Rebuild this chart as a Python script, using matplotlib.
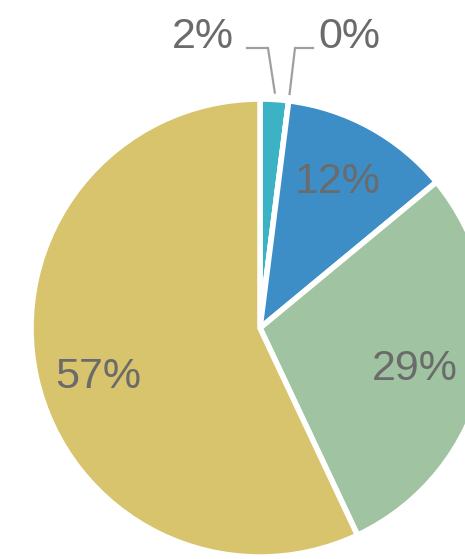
import numpy as np
import matplotlib.pyplot as plt

plt.rcParams['font.family'] = ['Liberation Sans', 'DejaVu Sans']

# shares in percent, clockwise from 12 o'clock
labels = ['2%', '0%', '12%', '29%', '57%']
values = [2, 0, 12, 29, 57]
colors = ['#3cb3c4', '#9e9e9e', '#3d8ec6', '#a0c4a1', '#d8c46c']

R = 229.0  # pie radius in pixels
cx, cy = 260.0, 328.0  # pie centre in pixels (from top-left)
W, H = 465, 559


def px2data(x, y):
    return (x - cx) / R, (cy - y) / R


fig = plt.figure(figsize=(W / 100, H / 100), dpi=100)
ax = fig.add_axes([0, 0, 1, 1])

wedges, _ = ax.pie(values, colors=colors, startangle=90, counterclock=False,
                   radius=1.0, center=(0, 0), frame=True,
                   wedgeprops=dict(edgecolor='white', linewidth=4))
ax.set_xlim(-cx / R, (W - cx) / R)
ax.set_ylim((cy - H) / R, cy / R)
ax.set_aspect('auto')
ax.axis('off')

txt_color = '#6b6b6b'
fs = 31

# big slices: labels inside
inner_pos = [(338, 182), (415, 369), (98, 377)]
for lab, (x, y) in zip(labels[2:], inner_pos):
    ax.text(*px2data(x, y), lab, ha='center', va='center',
            fontsize=fs, color=txt_color)

# small slices: labels above with elbow leader lines
elbow_y = (cy - 48) / R
small = [(wedges[0], labels[0], 268, 203, 247),
         (wedges[1], labels[1], 295, 349, 313)]
for w, lab, ex, tx, lx in small:
    mid = np.deg2rad((w.theta1 + w.theta2) / 2)
    px, py = 1.03 * np.cos(mid), 1.03 * np.sin(mid)
    ax.plot([px, (ex - cx) / R, (lx - cx) / R], [py, elbow_y, elbow_y],
            color='#a0a0a0', lw=1.6, solid_joinstyle='miter')
    ax.text(*px2data(tx, 37), lab, ha='center', va='center',
            fontsize=fs, color=txt_color)

fig.savefig('out.png', dpi=100, facecolor='white')
